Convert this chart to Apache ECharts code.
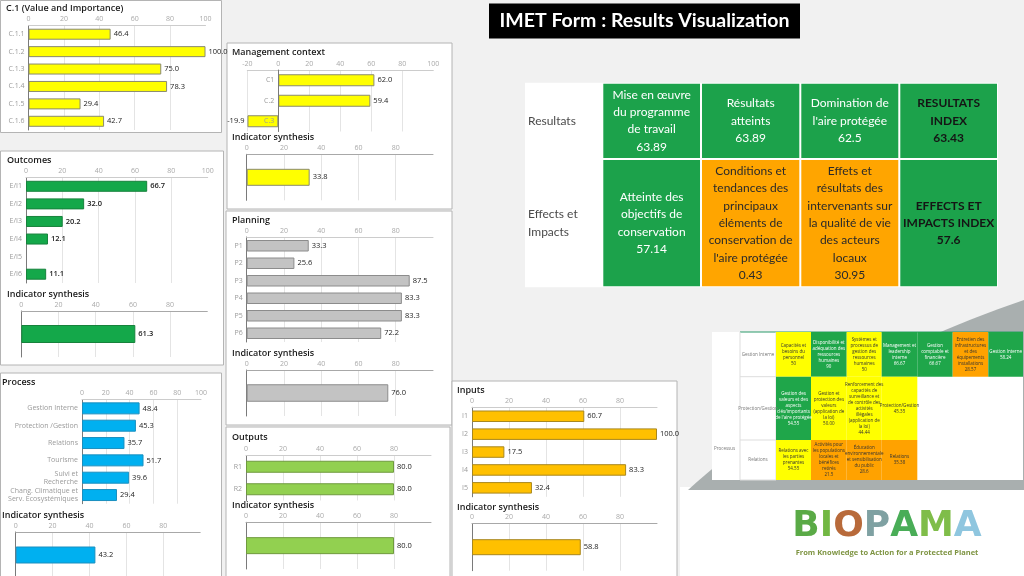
<!DOCTYPE html>
<html>
<head>
<meta charset="utf-8">
<script src="https://cdn.jsdelivr.net/npm/echarts@6/dist/echarts.min.js"></script>
<style>html,body{margin:0;padding:0;background:#f1f1f1}#c{width:1024px;height:576px}</style>
</head>
<body>
<div id="c"></div>
<script>
// ---------- DATA ----------
const c1Cats = ['C.1.1','C.1.2','C.1.3','C.1.4','C.1.5','C.1.6'];
const c1Vals = [46.4, 100.0, 75.0, 78.3, 29.4, 42.7];

const outcomeCats = ['E/I1','E/I2','E/I3','E/I4','E/I5','E/I6'];
const outcomeVals = [66.7, 32.0, 20.2, 12.1, null, 11.1];
const outcomeSynth = [61.3];

const processCats = ['Gestion Interne','Protection /Gestion','Relations','Tourisme','Suivi et\nRecherche','Chang. Climatique et\nServ. Écosystémiques'];
const processVals = [48.4, 45.3, 35.7, 51.7, 39.6, 29.4];
const processSynth = [43.2];

const mgmtCats = ['C1','C.2','C.3'];
const mgmtVals = [62.0, 59.4, -19.9];
const mgmtSynth = [33.8];

const planningCats = ['P1','P2','P3','P4','P5','P6'];
const planningVals = [33.3, 25.6, 87.5, 83.3, 83.3, 72.2];
const planningSynth = [76.0];

const outputCats = ['R1','R2'];
const outputVals = [80.0, 80.0];
const outputSynth = [80.0];

const inputCats = ['I1','I2','I3','I4','I5'];
const inputVals = [60.7, 100.0, 17.5, 83.3, 32.4];
const inputSynth = [58.8];

const synthTitle = 'Indicator synthesis';

const resultRowLabels = ['Resultats', 'Effects et\nImpacts'];
const resultNames = [
  ['Mise en œuvre\ndu programme\nde travail', 'Résultats\natteints', "Domination de\nl'aire protégée", 'RESULTATS\nINDEX'],
  ['Atteinte des\nobjectifs de\nconservation', "Conditions et\ntendances des\nprincipaux\néléments de\nconservation de\nl'aire protégée", 'Effets et\nrésultats des\nintervenants sur\nla qualité de vie\ndes acteurs\nlocaux', 'EFFECTS ET\nIMPACTS INDEX']
];
const resultValues = [[63.89, 63.89, 62.5, 63.43], [57.14, 0.43, 30.95, 57.6]];

const miniGroup = 'Processus';
const miniRowLabels = ['Gestion Interne', 'Protection/Gestion', 'Relations'];
const miniCells = [
  [['Capacités et\nbesoins du\npersonnel\n50','y'], ['Disponibilité et\nadéquation des\nressources\nhumaines\n90','g'], ['Systèmes et\nprocessus de\ngestion des\nressources\nhumaines\n50','y'], ['Management et\nleadership\ninterne\n66.67','g'], ['Gestion\ncomptable et\nfinancière\n66.67','g'], ['Entretien des\ninfrastructures\net des\néquipements\ninstallations\n28.57','o'], ['Gestion Interne\n58.24','g']],
  [["Gestion des\nvaleurs et des\naspects\nclés/importants\nde l'aire protégée\n54.55",'g'], ['Gestion et\nprotection des\nvaleurs\n(application de\nla loi)\n50.00','y'], ['Renforcement des\ncapacités de\nsurveillance et\nde contrôle des\nactivités\nillégales\n(application de\nla loi)\n44.44','y'], ['Protection/Gestion\n45.35','y']],
  [['Relations avec\nles parties\nprenantes\n54.55','y'], ['Activités pour\nles populations\nlocales et\nbénéfices\nretirés\n21.5','o'], ['Éducation\nenvironnementale\net sensibilisation\ndu public\n28.6','o'], ['Relations\n35.38','o']]
];

const pageTitle = 'IMET Form : Results Visualization';
const logoWord = 'BIOPAMA';
const logoTagline = 'From Knowledge to Action for a Protected Planet';

// ---------- STYLE / LAYOUT ----------
const F = '"Open Sans", "Noto Sans", sans-serif';
const grids = [], xAxes = [], yAxes = [], series = [], els = [];

function block(o) {
  const gi = grids.length;
  grids.push({left: o.left, top: o.top, width: o.width, height: o.height, containLabel: false, outerBoundsMode: 'none'});
  xAxes.push({
    gridIndex: gi, type: 'value', position: 'top', min: o.min || 0, max: 100, interval: 20,
    axisLine: {show: true, onZero: false, lineStyle: {color: o.synth ? '#a8a8a8' : '#cccccc', width: 1}},
    axisTick: {show: false},
    axisLabel: {color: '#a9a9a9', fontSize: 7, margin: 3, fontFamily: F, showMaxLabel: !!o.showMax, showMinLabel: true},
    splitLine: {show: true, showMaxLine: false, lineStyle: {color: '#e4e4e4', width: 1}}
  });
  yAxes.push({
    gridIndex: gi, type: 'category', data: o.cats, inverse: true, offset: o.yOffset || 0, z: o.yOffset ? 10 : 0,
    axisLine: {show: true, onZero: false, lineStyle: {color: '#7a7a7a', width: 1}},
    axisTick: {show: false},
    axisLabel: {show: !o.synth, color: '#9a9a9a', fontSize: 7, margin: 4, fontFamily: F, lineHeight: 8},
    splitLine: {show: false}
  });
  series.push({
    type: 'bar', xAxisIndex: gi, yAxisIndex: gi, barWidth: o.barWidth,
    data: o.vals.map(v => v == null ? '-' : (v < 0 ? {value: v, label: {position: 'left'}} : v)),
    itemStyle: {color: o.color, borderColor: o.border, borderWidth: 1},
    label: {show: true, position: 'right', distance: 3, fontSize: 7.5, color: '#222', fontFamily: F,
      fontWeight: o.boldLabel ? 600 : 'normal',
      formatter: p => (typeof p.value === 'number' && !isNaN(p.value)) ? p.value.toFixed(1) : ''},
    silent: true
  });
}
function txt(x, y, text, font, fill, align, extra) {
  els.push(Object.assign({type: 'text', x: x, y: y, z: 50,
    style: Object.assign({text: text, font: font, fill: fill, align: align || 'left', textAlign: align || 'left', verticalAlign: 'middle', textVerticalAlign: 'middle'}, extra || {})}));
}
function rect(x, y, w, h, fill, stroke, z) {
  els.push({type: 'rect', z: z == null ? -10 : z, shape: {x: x, y: y, width: w, height: h},
    style: {fill: fill, stroke: stroke || null, lineWidth: stroke ? 1 : 0}});
}

// backgrounds & decoration
rect(680, 487, 344, 89, '#ffffff', null, -30);
(function () {
  const pts = [];
  const P0 = [688, 490], P1 = [820, 370], P2 = [1024, 300];
  for (let i = 0; i <= 30; i++) {
    const t = i / 30, a = (1 - t) * (1 - t), b = 2 * t * (1 - t), c = t * t;
    pts.push([a * P0[0] + b * P1[0] + c * P2[0], a * P0[1] + b * P1[1] + c * P2[1]]);
  }
  pts.push([1024, 490]);
  els.push({type: 'polygon', z: -29, shape: {points: pts}, style: {fill: '#a9afaf'}});
})();

// panels
const YEL = '#ffff00', GRN = '#14a84a', BLU = '#00b0f0', GRY = '#c3c3c3', LGR = '#92d050', ORG = '#ffc000';
const panelTitleFont = '600 9px "Open Sans"';

// C.1
rect(0.5, 0.5, 221, 132, '#fff', '#b4b4b4');
txt(6, 8, 'C.1 (Value and Importance)', panelTitleFont, '#1a1a1a');
block({cats: c1Cats, vals: c1Vals, color: YEL, border: '#8a8a70', left: 28.5, top: 25.5, width: 177, height: 104.5, barWidth: 11, showMax: true});

// Outcomes
rect(0.5, 151, 223, 214, '#fff', '#b4b4b4');
txt(7, 160, 'Outcomes', panelTitleFont, '#1a1a1a');
block({cats: outcomeCats, vals: outcomeVals, color: GRN, border: '#17823c', left: 26, top: 177.5, width: 181.7, height: 105.5, barWidth: 11, showMax: true, boldLabel: true});
txt(7, 294, synthTitle, panelTitleFont, '#1a1a1a');
block({cats: [''], vals: outcomeSynth, color: GRN, border: '#17823c', left: 21.3, top: 311, width: 186, height: 46, barWidth: 18, synth: true, boldLabel: true});

// Process
rect(0.5, 373, 221, 210, '#fff', '#b4b4b4');
txt(2, 382, 'Process', panelTitleFont, '#1a1a1a');
block({cats: processCats, vals: processVals, color: BLU, border: '#1a8fbf', left: 82, top: 399.7, width: 119, height: 104, barWidth: 12, showMax: true});
txt(2, 515.7, synthTitle, panelTitleFont, '#1a1a1a');
block({cats: [''], vals: processSynth, color: BLU, border: '#1a8fbf', left: 15.7, top: 532, width: 184.5, height: 46, barWidth: 17, synth: true});

// Management context (y axis sits at value 0)
rect(227, 43, 225, 166, '#fff', '#b4b4b4');
txt(232, 52, 'Management context', panelTitleFont, '#1a1a1a');
block({cats: mgmtCats, vals: mgmtVals, color: YEL, border: '#8a8a70', left: 247.3, top: 70, width: 186, height: 61.5, barWidth: 12, min: -20, showMax: true, yOffset: -31});
txt(232, 137.7, synthTitle, panelTitleFont, '#1a1a1a');
block({cats: [''], vals: mgmtSynth, color: YEL, border: '#8a8a70', left: 246.7, top: 154.3, width: 186.3, height: 46, barWidth: 17, synth: true});

// Planning
rect(226, 211, 226, 214, '#fff', '#b4b4b4');
txt(232, 220, 'Planning', panelTitleFont, '#1a1a1a');
block({cats: planningCats, vals: planningVals, color: GRY, border: '#8c8c8c', left: 246.7, top: 237, width: 186.3, height: 105, barWidth: 11.5});
txt(232, 353.3, synthTitle, panelTitleFont, '#1a1a1a');
block({cats: [''], vals: planningSynth, color: GRY, border: '#8c8c8c', left: 246.7, top: 370, width: 186.3, height: 46, barWidth: 17.5, synth: true});

// Outputs
rect(226, 427, 224, 160, '#fff', '#b4b4b4');
txt(232, 437.3, 'Outputs', panelTitleFont, '#1a1a1a');
block({cats: outputCats, vals: outputVals, color: LGR, border: '#6f9a3e', left: 246, top: 455.5, width: 185, height: 45, barWidth: 12});
txt(232, 505.7, synthTitle, panelTitleFont, '#1a1a1a');
block({cats: [''], vals: outputSynth, color: LGR, border: '#6f9a3e', left: 246, top: 522.3, width: 185, height: 46.7, barWidth: 17, synth: true});

// Inputs
rect(452, 381, 225, 200, '#fff', '#b4b4b4');
txt(457, 390.7, 'Inputs', panelTitleFont, '#1a1a1a');
block({cats: inputCats, vals: inputVals, color: ORG, border: '#a8871e', left: 472, top: 407.3, width: 185, height: 89.5, barWidth: 11.5});
txt(457, 507.3, synthTitle, panelTitleFont, '#1a1a1a');
block({cats: [''], vals: inputSynth, color: ORG, border: '#a8871e', left: 472, top: 523.7, width: 185, height: 47, barWidth: 16, synth: true});

// Title
rect(489, 3.5, 311, 35, '#000000', null, 0);
txt(644.5, 21, pageTitle, 'bold 19.5px Lato', '#ffffff', 'center');

// Results table
const tCols = [525, 602.3, 701, 800.3, 899.3, 998];
const tRows = [82.7, 159, 287.3];
const tColor = v => v >= 50 ? '#1ca24b' : (v < 34 ? '#ffa500' : '#ffff00');
rect(tCols[0], tRows[0], tCols[5] - tCols[0], tRows[2] - tRows[0], '#ffffff', null, -5);
resultRowLabels.forEach((lab, r) => {
  txt(528, (tRows[r] + tRows[r + 1]) / 2, lab, '12px Lato', '#4a4a4a', 'left', {lineHeight: 17.3});
  resultNames[r].forEach((nm, c) => {
    const v = resultValues[r][c];
    const x0 = tCols[c + 1], x1 = tCols[c + 2], y0 = tRows[r], y1 = tRows[r + 1];
    const col = tColor(v);
    rect(x0 + 1, y0 + 1, x1 - x0 - 2, y1 - y0 - 2, col, null, -4);
    const isIndex = c === 3;
    const fill = isIndex ? '#151515' : (col === '#1ca24b' ? '#ffffff' : '#2a2a2a');
    txt((x0 + x1) / 2, (y0 + y1) / 2, nm + '\n' + v, (isIndex ? 'bold ' : '') + '12px Lato', fill, 'center', {lineHeight: 17.3});
  });
});

// Mini table (image of process table)
const mCols = [712, 740, 776, 811, 846.7, 881.7, 917.3, 952.7, 988.3, 1023];
const mRows = [332, 376.7, 440, 480];
const mColor = {y: '#ffff00', g: '#1fa64a', o: '#ffa200'};
rect(mCols[0], mRows[0], mCols[9] - mCols[0], mRows[3] - mRows[0], '#ffffff', null, -8);
els.push({type: 'line', z: -6, shape: {x1: mCols[1], y1: mRows[0], x2: mCols[9], y2: mRows[0]}, style: {stroke: '#2a9a6a', lineWidth: 1}});
els.push({type: 'line', z: -6, shape: {x1: mCols[1], y1: mRows[0], x2: mCols[1], y2: mRows[3]}, style: {stroke: '#dddddd', lineWidth: 1}});
els.push({type: 'line', z: -6, shape: {x1: mCols[2], y1: mRows[0], x2: mCols[2], y2: mRows[3]}, style: {stroke: '#dddddd', lineWidth: 1}});
txt(714, 449, miniGroup, '4.5px "Open Sans"', '#777', 'left');
miniRowLabels.forEach((lab, r) => {
  els.push({type: 'line', z: -6, shape: {x1: mCols[1], y1: mRows[r + 1], x2: mCols[2], y2: mRows[r + 1]}, style: {stroke: '#dddddd', lineWidth: 1}});
  txt((mCols[1] + mCols[2]) / 2, (mRows[r] + mRows[r + 1]) / 2, lab, '4.5px "Open Sans"', '#777', 'center');
  miniCells[r].forEach((cell, c) => {
    const x0 = mCols[c + 2], x1 = mCols[c + 3], y0 = mRows[r], y1 = mRows[r + 1];
    rect(x0, y0, x1 - x0, y1 - y0, mColor[cell[1]], null, -6);
    txt((x0 + x1) / 2, (y0 + y1) / 2, cell[0], '4.5px "Open Sans"', cell[1] === 'g' ? '#ffffff' : '#333', 'center', {lineHeight: 6});
  });
});

// Logo
const logoColors = ['#5aaa46', '#72b843', '#b86a3a', '#7fa1a2', '#49ad57', '#7fbd49', '#8fc6df'];
const rich = {};
let logoText = '';
logoWord.split('').forEach((ch, i) => { rich['l' + i] = {fill: logoColors[i], color: logoColors[i], font: 'bold 36px "DejaVu Sans"'}; logoText += '{l' + i + '|' + ch + '}'; });
els.push({type: 'text', x: 887, y: 527, z: 50, style: {text: logoText, rich: rich, font: 'bold 36px "DejaVu Sans"', align: 'center', textAlign: 'center', verticalAlign: 'middle', textVerticalAlign: 'middle'}});
txt(887, 553, logoTagline, 'bold 7.5px "Open Sans"', '#7e9442', 'center');

const chart = echarts.init(document.getElementById('c'), null, {renderer: 'canvas'});
chart.setOption({
  backgroundColor: '#f1f1f1',
  animation: false,
  textStyle: {fontFamily: F},
  grid: grids, xAxis: xAxes, yAxis: yAxes, series: series,
  graphic: {elements: els}
});
</script>
</body>
</html>
